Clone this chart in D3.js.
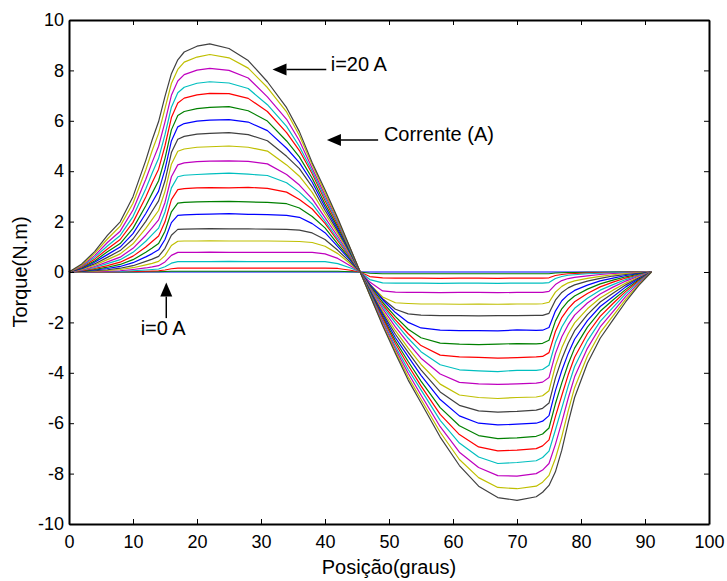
<!DOCTYPE html>
<html>
<head>
<meta charset="utf-8">
<script src="https://cdn.jsdelivr.net/npm/d3@7"></script>
<style>
  body { margin: 0; background: #fff; }
  svg { display: block; font-family: "Liberation Sans", Arial, sans-serif; }
</style>
</head>
<body>
<svg id="chart" width="727" height="581"></svg>
<script>
// rotor position (degrees), shared by all curves
const position = [0, 2, 4, 6, 8, 10, 12, 13, 14, 15, 16, 17, 18, 20,
  22, 25, 28, 31, 34, 36, 38, 40, 42, 44, 45.5,
  47, 49, 51, 53, 55, 58, 61, 64, 67, 70,
  73, 74, 75, 76, 77, 78, 79, 81, 83, 85, 87, 89, 91];

// torque (N.m) for each current, i = 0 ... 20 A
const t0 = position.map(() => 0);
const t1 = [0, 0, 0, 0, 0, 0, .01, .01, .01, .02, .03, .03, .03, .03,
  .03, .03, .03, .03, .03, .03, .03, .03, .03, .01, 0,
  -.05, -.07, -.07, -.07, -.07, -.07, -.07, -.07, -.07, -.07,
  -.07, -.07, -.07, -.04, -.03, -.02, -.02, -.01, -.01, 0, 0, 0, 0];
const t2 = [0, 0, 0, 0, .01, .02, .03, .04, .05, .08, .13, .15, .15, .15,
  .15, .15, .15, .15, .15, .15, .15, .15, .14, .07, 0,
  -.18, -.23, -.24, -.24, -.24, -.25, -.24, -.24, -.25, -.24,
  -.24, -.24, -.23, -.14, -.10, -.07, -.06, -.04, -.03, -.02, -.01, 0, 0];
const t3 = [0, 0, .01, .01, .02, .05, .08, .10, .12, .21, .35, .41, .41, .41,
  .41, .42, .41, .41, .41, .41, .41, .41, .33, .16, 0,
  -.30, -.43, -.44, -.44, -.44, -.45, -.44, -.44, -.45, -.44,
  -.44, -.44, -.42, -.26, -.18, -.13, -.11, -.07, -.05, -.03, -.02, -.01, 0];
const t4 = [0, .01, .01, .03, .05, .10, .16, .20, .25, .40, .66, .78, .78, .78,
  .79, .78, .78, .78, .78, .78, .78, .72, .54, .24, 0,
  -.40, -.75, -.80, -.81, -.81, -.82, -.81, -.81, -.82, -.81,
  -.81, -.81, -.77, -.50, -.34, -.26, -.21, -.15, -.10, -.06, -.04, -.02, 0];
const t5 = [0, .01, .03, .06, .10, .17, .28, .34, .42, .65, 1.05, 1.22, 1.23, 1.23,
  1.24, 1.23, 1.23, 1.23, 1.22, 1.21, 1.17, 1.02, .73, .32, 0,
  -.48, -.99, -1.22, -1.25, -1.27, -1.27, -1.28, -1.27, -1.28, -1.27,
  -1.27, -1.26, -1.20, -.80, -.57, -.43, -.35, -.25, -.17, -.11, -.06, -.03, 0];
const t6 = [0, .02, .05, .09, .15, .25, .42, .51, .62, .94, 1.46, 1.69, 1.70, 1.71,
  1.72, 1.71, 1.71, 1.70, 1.69, 1.66, 1.55, 1.29, .86, .38, 0,
  -.50, -1.06, -1.48, -1.66, -1.71, -1.73, -1.73, -1.74, -1.73, -1.73,
  -1.72, -1.72, -1.64, -1.12, -.81, -.63, -.51, -.36, -.25, -.16, -.10, -.05, 0];
const t7 = [0, .03, .08, .14, .22, .37, .60, .73, .88, 1.29, 1.96, 2.25, 2.27, 2.29,
  2.30, 2.32, 2.29, 2.28, 2.25, 2.17, 1.92, 1.56, 1.01, .45, 0,
  -.49, -1.10, -1.61, -2.00, -2.22, -2.31, -2.33, -2.33, -2.34, -2.30,
  -2.32, -2.31, -2.20, -1.55, -1.14, -.90, -.73, -.52, -.35, -.24, -.14, -.07, 0];
const t8 = [0, .04, .10, .19, .30, .49, .78, .95, 1.13, 1.62, 2.39, 2.73, 2.76, 2.78,
  2.79, 2.80, 2.78, 2.76, 2.71, 2.54, 2.20, 1.75, 1.11, .50, 0,
  -.54, -1.20, -1.77, -2.27, -2.61, -2.82, -2.86, -2.88, -2.86, -2.84,
  -2.85, -2.83, -2.71, -1.95, -1.46, -1.16, -.95, -.68, -.47, -.32, -.19, -.09, 0];
const t9 = [0, .05, .14, .25, .39, .63, .99, 1.21, 1.43, 1.99, 2.87, 3.27, 3.31, 3.34,
  3.35, 3.34, 3.36, 3.32, 3.17, 2.88, 2.50, 1.93, 1.23, .55, 0,
  -.58, -1.29, -1.90, -2.45, -2.92, -3.30, -3.37, -3.39, -3.42, -3.40,
  -3.37, -3.35, -3.20, -2.36, -1.81, -1.45, -1.18, -.85, -.59, -.40, -.24, -.12, 0];
const t10 = [0, .07, .18, .33, .49, .78, 1.22, 1.48, 1.74, 2.38, 3.34, 3.78, 3.84, 3.87,
  3.89, 3.92, 3.88, 3.83, 3.54, 3.17, 2.70, 2.02, 1.31, .58, 0,
  -.61, -1.36, -2.02, -2.63, -3.16, -3.68, -3.88, -3.92, -3.95, -3.90,
  -3.90, -3.87, -3.70, -2.80, -2.18, -1.76, -1.44, -1.04, -.72, -.50, -.30, -.14, 0];
const t11 = [0, .08, .22, .40, .59, .94, 1.46, 1.76, 2.07, 2.76, 3.78, 4.25, 4.33, 4.38,
  4.40, 4.41, 4.39, 4.29, 3.87, 3.45, 2.90, 2.16, 1.41, .62, 0,
  -.65, -1.45, -2.18, -2.82, -3.42, -4.05, -4.38, -4.44, -4.46, -4.44,
  -4.41, -4.37, -4.19, -3.24, -2.57, -2.09, -1.71, -1.23, -.87, -.60, -.36, -.17, 0];
const t12 = [0, .10, .27, .49, .72, 1.12, 1.73, 2.09, 2.44, 3.20, 4.28, 4.79, 4.88, 4.95,
  4.97, 5.00, 4.95, 4.80, 4.25, 3.80, 3.16, 2.31, 1.52, .67, 0,
  -.69, -1.55, -2.33, -3.02, -3.67, -4.45, -4.88, -4.98, -5.02, -4.98,
  -4.96, -4.91, -4.71, -3.73, -3.01, -2.45, -2.02, -1.46, -1.03, -.72, -.44, -.21, 0];
const t13 = [0, .13, .32, .58, .85, 1.31, 2.01, 2.42, 2.82, 3.62, 4.74, 5.27, 5.38, 5.47,
  5.50, 5.53, 5.45, 5.21, 4.59, 4.10, 3.38, 2.45, 1.61, .72, 0,
  -.72, -1.63, -2.47, -3.19, -3.88, -4.76, -5.29, -5.51, -5.56, -5.53,
  -5.48, -5.41, -5.20, -4.21, -3.45, -2.83, -2.33, -1.69, -1.19, -.84, -.51, -.24, 0];
const t14 = [0, .14, .39, .69, .99, 1.52, 2.32, 2.77, 3.21, 4.07, 5.20, 5.76, 5.89, 5.99,
  6.03, 6.05, 5.95, 5.61, 4.91, 4.34, 3.56, 2.58, 1.69, .75, 0,
  -.75, -1.70, -2.61, -3.36, -4.10, -5.06, -5.71, -6.00, -6.07, -6.04,
  -6.00, -5.92, -5.70, -4.71, -3.91, -3.23, -2.67, -1.93, -1.37, -.98, -.59, -.28, 0];
const t15 = [0, .17, .44, .80, 1.13, 1.73, 2.63, 3.13, 3.62, 4.51, 5.64, 6.21, 6.37, 6.48,
  6.53, 6.56, 6.40, 5.99, 5.20, 4.57, 3.72, 2.70, 1.78, .78, 0,
  -.79, -1.78, -2.73, -3.55, -4.33, -5.38, -6.10, -6.49, -6.61, -6.58,
  -6.52, -6.43, -6.19, -5.23, -4.40, -3.65, -3.02, -2.19, -1.56, -1.11, -.69, -.32, 0];
const t16 = [0, .20, .51, .91, 1.29, 1.97, 2.98, 3.55, 4.08, 5.01, 6.13, 6.71, 6.90, 7.03,
  7.09, 7.08, 6.89, 6.37, 5.53, 4.82, 3.90, 2.84, 1.87, .82, 0,
  -.82, -1.84, -2.84, -3.71, -4.52, -5.65, -6.45, -6.94, -7.10, -7.07,
  -7.01, -6.90, -6.66, -5.74, -4.90, -4.08, -3.38, -2.45, -1.76, -1.25, -.77, -.36, 0];
const t17 = [0, .23, .58, 1.03, 1.45, 2.20, 3.30, 3.93, 4.51, 5.45, 6.54, 7.11, 7.33, 7.49,
  7.55, 7.50, 7.28, 6.64, 5.78, 4.98, 4.00, 2.94, 1.95, .83, 0,
  -.83, -1.93, -2.96, -3.87, -4.68, -5.89, -6.79, -7.34, -7.60, -7.56,
  -7.49, -7.36, -7.11, -6.27, -5.40, -4.53, -3.75, -2.73, -1.96, -1.40, -.86, -.40, 0];
const t18 = [0, .25, .65, 1.17, 1.62, 2.46, 3.68, 4.36, 4.99, 5.96, 7.01, 7.58, 7.83, 8.01,
  8.08, 8.00, 7.70, 6.95, 6.06, 5.21, 4.12, 3.05, 2.02, .89, 0,
  -.89, -1.99, -3.06, -4.02, -4.88, -6.14, -7.15, -7.76, -8.08, -8.10,
  -8.00, -7.86, -7.60, -6.84, -5.96, -5.01, -4.16, -3.03, -2.18, -1.57, -.97, -.45, 0];
const t19 = [0, .28, .74, 1.31, 1.82, 2.73, 4.06, 4.82, 5.50, 6.49, 7.48, 8.04, 8.33, 8.53,
  8.63, 8.50, 8.09, 7.32, 6.35, 5.42, 4.26, 3.15, 2.07, .90, 0,
  -.91, -2.07, -3.15, -4.17, -5.05, -6.36, -7.44, -8.16, -8.55, -8.60,
  -8.50, -8.34, -8.07, -7.40, -6.53, -5.51, -4.59, -3.33, -2.41, -1.74, -1.08, -.50, 0];
const t20 = [0, .32, .81, 1.45, 1.99, 2.99, 4.43, 5.25, 5.97, 6.97, 7.87, 8.42, 8.73, 8.96,
  9.05, 8.87, 8.39, 7.55, 6.52, 5.57, 4.34, 3.26, 2.13, .91, 0,
  -.91, -2.12, -3.23, -4.29, -5.19, -6.55, -7.68, -8.50, -8.95, -9.06,
  -8.92, -8.74, -8.47, -7.93, -7.07, -5.98, -4.98, -3.62, -2.63, -1.90, -1.18, -.54, 0];

const curves = [t0, t1, t2, t3, t4, t5, t6, t7, t8, t9, t10,
  t11, t12, t13, t14, t15, t16, t17, t18, t19, t20];

const xTicks = [0, 10, 20, 30, 40, 50, 60, 70, 80, 90, 100];
const yTicks = [-10, -8, -6, -4, -2, 0, 2, 4, 6, 8, 10];

// matlab's old line colour order: b g r c m y k
const lineColors = ["#0000ff", "#008000", "#ff0000", "#00bfbf", "#bf00bf", "#bfbf00", "#404040"];

const svg = d3.select("#chart");
const mLeft = 69, mRight = 709, mTop = 20, mBottom = 524;

const x = d3.scaleLinear().domain([0, 100]).range([mLeft, mRight]);
const y = d3.scaleLinear().domain([-10, 10]).range([mBottom, mTop]);

svg.append("rect")
  .attr("width", 727).attr("height", 581)
  .attr("fill", "#fff");

// curves
const line = d3.line()
  .x((d, k) => x(position[k]))
  .y(d => y(d));

svg.append("g")
  .selectAll("path")
  .data(curves)
  .enter()
  .append("path")
  .attr("d", line)
  .attr("fill", "none")
  .attr("stroke", (d, i) => lineColors[i % 7])
  .attr("stroke-width", 1.2)
  .attr("stroke-linejoin", "round");

// axes, ticks pointing inwards on all four sides
function styleAxis(g) {
  g.select(".domain").attr("stroke", "#000").attr("stroke-width", 2);
  g.selectAll(".tick line").attr("stroke", "#000").attr("stroke-width", 1);
  g.selectAll(".tick text").attr("fill", "#000").style("font-size", "18px")
    .style("font-family", "'Liberation Sans', Arial, sans-serif");
}

svg.append("g")
  .attr("transform", "translate(0," + mBottom + ")")
  .call(d3.axisBottom(x).tickValues(xTicks).tickFormat(d => String(d))
    .tickSizeInner(-5).tickSizeOuter(0).tickPadding(11))
  .call(styleAxis);

svg.append("g")
  .attr("transform", "translate(0," + mTop + ")")
  .call(d3.axisTop(x).tickValues(xTicks).tickFormat("")
    .tickSizeInner(-5).tickSizeOuter(0))
  .call(styleAxis);

svg.append("g")
  .attr("transform", "translate(" + mLeft + ",0)")
  .call(d3.axisLeft(y).tickValues(yTicks).tickFormat(d => String(d))
    .tickSizeInner(-5).tickSizeOuter(0).tickPadding(5))
  .call(styleAxis);

svg.append("g")
  .attr("transform", "translate(" + mRight + ",0)")
  .call(d3.axisRight(y).tickValues(yTicks).tickFormat("")
    .tickSizeInner(-5).tickSizeOuter(0))
  .call(styleAxis);

// axis titles
svg.append("text")
  .attr("x", (mLeft + mRight) / 2)
  .attr("y", 574)
  .attr("text-anchor", "middle")
  .style("font-size", "20px")
  .text("Posição(graus)");

svg.append("text")
  .attr("transform", "translate(27," + (mTop + mBottom) / 2 + ")rotate(-90)")
  .attr("text-anchor", "middle")
  .style("font-size", "20px")
  .text("Torque(N.m)");

// annotations with arrows
function arrow(x1, y1, x2, y2) {
  const ang = Math.atan2(y2 - y1, x2 - x1);
  const len = 14, half = 6;
  const bx = x2 - len * Math.cos(ang), by = y2 - len * Math.sin(ang);
  svg.append("line")
    .attr("x1", x1).attr("y1", y1).attr("x2", bx).attr("y2", by)
    .attr("stroke", "#000").attr("stroke-width", 1.5);
  svg.append("path")
    .attr("d", "M" + x2 + "," + y2 +
      "L" + (bx + half * Math.sin(ang)) + "," + (by - half * Math.cos(ang)) +
      "L" + (bx - half * Math.sin(ang)) + "," + (by + half * Math.cos(ang)) + "Z")
    .attr("fill", "#000");
}

arrow(x(40.2), y(8.04), x(31.8), y(8.04));
svg.append("text")
  .attr("x", x(40.9)).attr("y", y(7.98))
  .style("font-size", "20px")
  .text("i=20 A");

arrow(x(48.3), y(5.24), x(40.3), y(5.24));
svg.append("text")
  .attr("x", x(49.2)).attr("y", y(5.18))
  .style("font-size", "20px")
  .text("Corrente (A)");

arrow(x(15.2), y(-1.83), x(15.2), y(-0.42));
svg.append("text")
  .attr("x", x(11.2)).attr("y", y(-2.5))
  .style("font-size", "20px")
  .text("i=0 A");
</script>
</body>
</html>
